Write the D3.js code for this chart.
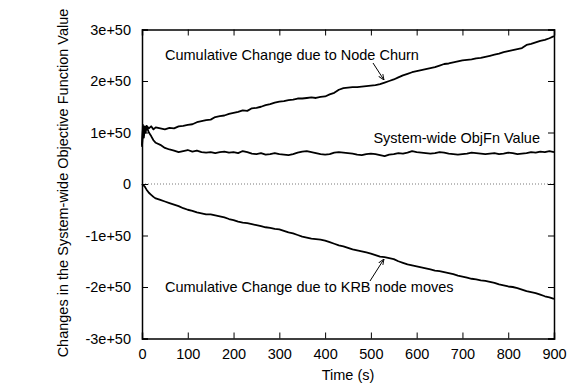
<!DOCTYPE html>
<html>
<head>
<meta charset="utf-8">
<script src="https://cdn.jsdelivr.net/npm/d3@7"></script>
<style>
    body { margin: 0; background: #fff; }
    text { font-family: "Liberation Sans", Arial, sans-serif; font-size: 14.5px; fill: #000; }
</style>
</head>
<body>
<svg id="grafico" width="570" height="386"></svg>
<script>
// tempo (s) de cada amostra
var tempos = [0, 2, 4, 6, 8, 10, 15, 20, 25, 30,
    40, 50, 60, 70, 80, 90, 100, 110, 120, 130, 140, 150, 160, 170, 180, 190,
    200, 210, 220, 230, 240, 250, 260, 270, 280, 290, 300, 310, 320, 330, 340, 350, 360, 370, 380, 390,
    400, 410, 420, 430, 440, 450, 460, 470, 480, 490, 500, 510, 520, 530, 540, 550, 560, 570, 580, 590,
    600, 610, 620, 630, 640, 650, 660, 670, 680, 690, 700, 710, 720, 730, 740, 750, 760, 770, 780, 790,
    800, 810, 820, 830, 840, 850, 860, 870, 880, 890, 900];

// valores em unidades de 1e+50
var churn = [0.75, 1.15, 0.95, 1.12, 1.05, 1.13, 1.08, 1.12, 1.06, 1.10,
    1.08, 1.06, 1.09, 1.08, 1.12, 1.13, 1.15, 1.16, 1.20, 1.22, 1.24, 1.25, 1.30, 1.32, 1.33, 1.36,
    1.38, 1.40, 1.43, 1.42, 1.47, 1.48, 1.50, 1.53, 1.55, 1.58, 1.60, 1.61, 1.63, 1.64, 1.66, 1.66, 1.67, 1.68, 1.67, 1.69,
    1.70, 1.74, 1.77, 1.83, 1.86, 1.87, 1.88, 1.88, 1.89, 1.90, 1.91, 1.92, 1.94, 1.97, 2.00, 2.03, 2.07, 2.11, 2.14, 2.17,
    2.19, 2.21, 2.23, 2.25, 2.27, 2.30, 2.33, 2.34, 2.36, 2.38, 2.40, 2.41, 2.42, 2.44, 2.45, 2.47, 2.49, 2.51, 2.53, 2.56,
    2.58, 2.60, 2.62, 2.64, 2.70, 2.72, 2.75, 2.78, 2.80, 2.83, 2.87];

var objFn = [0.72, 1.05, 0.90, 1.10, 1.00, 1.12, 1.00, 0.93, 0.85, 0.80,
    0.76, 0.70, 0.67, 0.65, 0.62, 0.64, 0.66, 0.63, 0.65, 0.62, 0.61, 0.62, 0.60, 0.62, 0.63, 0.61,
    0.62, 0.60, 0.64, 0.62, 0.59, 0.58, 0.60, 0.57, 0.58, 0.60, 0.58, 0.57, 0.56, 0.58, 0.61, 0.63, 0.64, 0.62, 0.60, 0.58,
    0.57, 0.58, 0.61, 0.62, 0.61, 0.60, 0.59, 0.57, 0.56, 0.58, 0.59, 0.58, 0.56, 0.54, 0.57, 0.58, 0.60, 0.59, 0.61, 0.64,
    0.62, 0.61, 0.60, 0.59, 0.60, 0.62, 0.61, 0.59, 0.58, 0.57, 0.58, 0.59, 0.61, 0.60, 0.59, 0.58, 0.59, 0.60, 0.58, 0.59,
    0.61, 0.60, 0.58, 0.59, 0.60, 0.62, 0.61, 0.63, 0.62, 0.64, 0.62];

var krb = [0, -0.02, -0.03, -0.05, -0.08, -0.11, -0.17, -0.21, -0.25, -0.28,
    -0.31, -0.34, -0.37, -0.40, -0.43, -0.47, -0.50, -0.52, -0.55, -0.57, -0.59, -0.59, -0.61, -0.63, -0.65, -0.68,
    -0.70, -0.73, -0.75, -0.76, -0.78, -0.80, -0.82, -0.84, -0.85, -0.87, -0.88, -0.91, -0.94, -0.96, -0.99, -1.02, -1.04, -1.06, -1.07, -1.08,
    -1.10, -1.13, -1.16, -1.19, -1.21, -1.24, -1.27, -1.29, -1.31, -1.33, -1.35, -1.38, -1.41, -1.42, -1.44, -1.46, -1.50, -1.53, -1.56, -1.58,
    -1.60, -1.62, -1.64, -1.66, -1.68, -1.69, -1.71, -1.73, -1.75, -1.78, -1.80, -1.82, -1.84, -1.85, -1.87, -1.88, -1.90, -1.92, -1.95, -1.97,
    -1.99, -2.00, -2.02, -2.05, -2.08, -2.10, -2.12, -2.15, -2.18, -2.20, -2.23];

var ticksX = [0, 100, 200, 300, 400, 500, 600, 700, 800, 900];
var ticksY = [-3, -2, -1, 0, 1, 2, 3];
var rotulosY = ["-3e+50", "-2e+50", "-1e+50", "0", "1e+50", "2e+50", "3e+50"];

var svg = d3.select("#grafico");
var esq = 142, dir = 554, topo = 29.5, base = 338.5;

var x = d3.scaleLinear().domain([0, 900]).range([esq, dir]);
var y = d3.scaleLinear().domain([-3, 3]).range([base, topo]);

// linha pontilhada no zero
svg.append("line")
    .attr("x1", esq).attr("x2", dir)
    .attr("y1", y(0)).attr("y2", y(0))
    .attr("stroke", "#555")
    .attr("stroke-width", 0.8)
    .attr("stroke-dasharray", "1,2");

// eixos (ticks para dentro, espelhados em cima e a direita)
var eixoBaixo = d3.axisBottom(x).tickValues(ticksX).tickSize(-6).tickPadding(10);
var eixoCima = d3.axisTop(x).tickValues(ticksX).tickSize(-6).tickFormat("");
var eixoEsq = d3.axisLeft(y).tickValues(ticksY).tickSize(-6).tickPadding(11)
    .tickFormat(function(d) { return rotulosY[ticksY.indexOf(d)]; });
var eixoDir = d3.axisRight(y).tickValues(ticksY).tickSize(-6).tickFormat("");

svg.append("g").attr("transform", "translate(0," + base + ")").call(eixoBaixo);
svg.append("g").attr("transform", "translate(0," + topo + ")").call(eixoCima);
svg.append("g").attr("transform", "translate(" + esq + ",0)").call(eixoEsq);
svg.append("g").attr("transform", "translate(" + dir + ",0)").call(eixoDir);

svg.selectAll(".domain").attr("stroke", "#000").attr("stroke-width", 1.5);
svg.selectAll(".tick line").attr("stroke", "#000");
svg.selectAll(".tick text").style("font-size", "14.5px").style("font-family", "Liberation Sans, Arial, sans-serif");

var linha = d3.line()
    .x(function(d) { return x(d[0]); })
    .y(function(d) { return y(d[1]); });

[churn, objFn, krb].forEach(function(serie) {
    svg.append("path")
        .datum(tempos.map(function(t, i) { return [t, serie[i]]; }))
        .attr("fill", "none")
        .attr("stroke", "#000")
        .attr("stroke-width", 1.8)
        .attr("stroke-linejoin", "round")
        .attr("d", linha);
});

// rotulos das curvas
svg.append("text").attr("x", 165).attr("y", 60).text("Cumulative Change due to Node Churn");
svg.append("text").attr("x", 540).attr("y", 143).attr("text-anchor", "end").text("System-wide ObjFn Value");
svg.append("text").attr("x", 165).attr("y", 292).text("Cumulative Change due to KRB node moves");

// setas
svg.append("defs").append("marker")
    .attr("id", "ponta")
    .attr("viewBox", "0 0 10 10")
    .attr("refX", 10).attr("refY", 5)
    .attr("markerWidth", 6).attr("markerHeight", 6)
    .attr("orient", "auto")
    .append("path")
    .attr("d", "M0,1 L10,5 L0,9")
    .attr("fill", "none")
    .attr("stroke", "#000")
    .attr("stroke-width", 1.5);

svg.append("line")
    .attr("x1", 373).attr("y1", 63).attr("x2", 384).attr("y2", 80)
    .attr("stroke", "#000").attr("marker-end", "url(#ponta)");
svg.append("line")
    .attr("x1", 370).attr("y1", 281).attr("x2", 384).attr("y2", 259)
    .attr("stroke", "#000").attr("marker-end", "url(#ponta)");

// titulos dos eixos
svg.append("text")
    .attr("x", (esq + dir) / 2).attr("y", 380)
    .attr("text-anchor", "middle")
    .text("Time (s)");
svg.append("text")
    .attr("transform", "translate(68," + 183 + ") rotate(-90)")
    .attr("text-anchor", "middle")
    .text("Changes in the System-wide Objective Function Value");
</script>
</body>
</html>
